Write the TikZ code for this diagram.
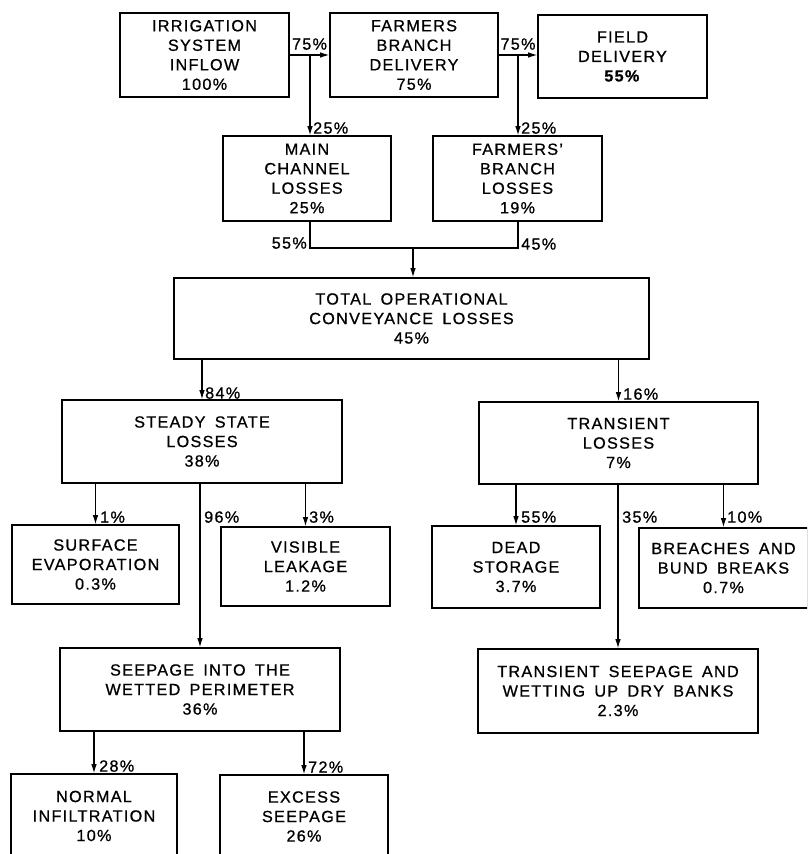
\documentclass[tikz,border=0pt]{standalone}
\usepackage{fontspec}
\setmainfont{Liberation Sans}[LetterSpace=8,WordSpace=1.6,FakeBold=0.8]
\usetikzlibrary{arrows.meta}
\begin{document}
\begin{tikzpicture}[x=1pt,y=-1pt,
  box/.style={draw, line width=1.6pt, align=center, inner sep=0pt, font=\fontsize{16.2}{19.5}\selectfont},
  arr/.style={line width=1.1pt, -{Latex[length=9pt,width=5.5pt]}},
  ln/.style={line width=1.1pt},
  lbl/.style={inner sep=0pt, font=\fontsize{16.2}{18}\selectfont}]
\useasboundingbox[fill=white] (0,0) rectangle (807,854);
\clip (0,0) rectangle (807,854);
% boxes
\node[box, minimum width=169, minimum height=84] (irr) at (204.5,55) {IRRIGATION\\SYSTEM\\INFLOW\\100\%};
\node[box, minimum width=168, minimum height=84] (fbd) at (414,55) {FARMERS\\BRANCH\\DELIVERY\\75\%};
\node[box, minimum width=169, minimum height=83] (fd) at (622.5,56.5) {FIELD\\DELIVERY\\\textbf{55\%}};
\node[box, minimum width=168, minimum height=85] (mcl) at (307,178.5) {MAIN\\CHANNEL\\LOSSES\\25\%};
\node[box, minimum width=169, minimum height=85] (fbl) at (517.5,178.5) {FARMERS'\\BRANCH\\LOSSES\\19\%};
\node[box, minimum width=475, minimum height=81] (tot) at (411.5,318.5) {TOTAL OPERATIONAL\\CONVEYANCE LOSSES\\45\%};
\node[box, minimum width=280, minimum height=83] (ssl) at (202,441.5) {STEADY STATE\\LOSSES\\38\%};
\node[box, minimum width=279, minimum height=82] (trl) at (618.5,443) {TRANSIENT\\LOSSES\\7\%};
\node[box, minimum width=167, minimum height=79] (sev) at (95.5,564.5) {SURFACE\\EVAPORATION\\0.3\%};
\node[box, minimum width=169, minimum height=79] (vlk) at (305.5,566.5) {VISIBLE\\LEAKAGE\\1.2\%};
\node[box, minimum width=280, minimum height=83] (swp) at (200,689.5) {SEEPAGE INTO THE\\WETTED PERIMETER\\36\%};
\node[box, minimum width=168, minimum height=82] (dst) at (516,567) {DEAD\\STORAGE\\3.7\%};
\node[box, minimum width=169, minimum height=80] (bbb) at (723.5,568) {BREACHES AND\\BUND BREAKS\\0.7\%};
\node[box, minimum width=280, minimum height=84] (tsp) at (618,691) {TRANSIENT SEEPAGE AND\\WETTING UP DRY BANKS\\2.3\%};
\node[box, minimum width=166, minimum height=84] (nin) at (94,816) {NORMAL\\INFILTRATION\\10\%};
\node[box, minimum width=168, minimum height=83] (exs) at (304,816.5) {EXCESS\\SEEPAGE\\26\%};
% top row
\draw[arr] (irr.east) -- (fbd.west);
\node[lbl, anchor=south] (l1) at (309.5,50) {75\%};
\coordinate (j1) at (310,55);
\draw[arr] (j1) -- (j1 |- mcl.north);
\node[lbl, anchor=south west] (l2) at (313,134) {25\%};
\draw[arr] (fbd.east) -- (fbd.east -| fd.west);
\node[lbl, anchor=south] (l3) at (518,50) {75\%};
\coordinate (j2) at (518,55);
\draw[arr] (j2) -- (j2 |- fbl.north);
\node[lbl, anchor=south west] (l4) at (521,134) {25\%};
% merge
\coordinate (m1) at (310,248);
\coordinate (m2) at (518,248);
\coordinate (m3) at (413,248);
\draw[ln] (m1 |- mcl.south) -- (m1) -- (m2) -- (m2 |- fbl.south);
\draw[arr] (m3) -- (m3 |- tot.north);
\node[lbl, anchor=south east] (l5) at (307,249) {55\%};
\node[lbl, anchor=south west] (l6) at (521,250) {45\%};
% total to steady / transient
\draw[arr] (tot.south -| ssl.north) -- (ssl.north);
\node[lbl, anchor=south west] (l7) at (205,399) {84\%};
\draw[arr] (tot.south -| trl.north) -- (trl.north);
\node[lbl, anchor=south west] (l8) at (623,400) {16\%};
% steady branches
\draw[arr] (ssl.south -| sev.north) -- (sev.north);
\node[lbl, anchor=south west] (l9) at (100,523) {1\%};
\draw[arr] (ssl.south -| vlk.north) -- (vlk.north);
\node[lbl, anchor=south west] (l10) at (309,523) {3\%};
\draw[arr] (ssl.south -| swp.north) -- (swp.north);
\node[lbl, anchor=south west] (l11) at (204,523) {96\%};
% transient branches
\draw[arr] (trl.south -| dst.north) -- (dst.north);
\node[lbl, anchor=south west] (l12) at (521,523) {55\%};
\draw[arr] (trl.south -| tsp.north) -- (tsp.north);
\node[lbl, anchor=south west] (l13) at (622,523) {35\%};
\draw[arr] (trl.south -| bbb.north) -- (bbb.north);
\node[lbl, anchor=south west] (l14) at (727,523) {10\%};
% seepage branches
\draw[arr] (swp.south -| nin.north) -- (nin.north);
\node[lbl, anchor=south west] (l15) at (99,772) {28\%};
\draw[arr] (swp.south -| exs.north) -- (exs.north);
\node[lbl, anchor=south west] (l16) at (308,773) {72\%};
\end{tikzpicture}
\end{document}
